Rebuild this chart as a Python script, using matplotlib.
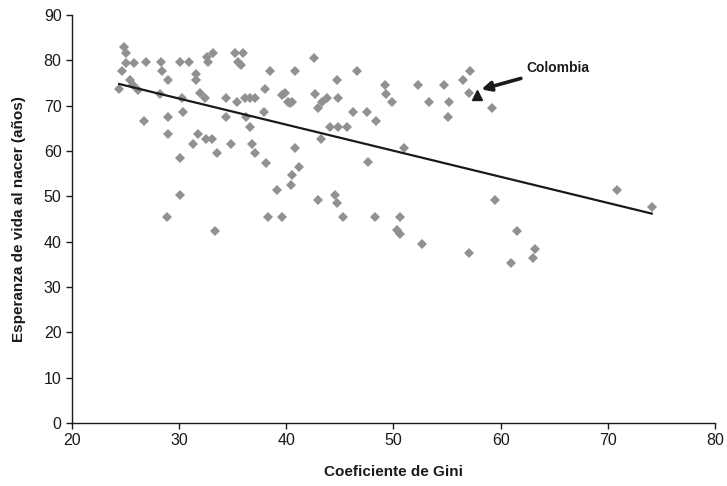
import matplotlib.pyplot as plt

# Datos (coeficiente de Gini, esperanza de vida)
gini = [
    24.9, 25.0, 25.0, 25.8, 26.9, 28.3, 30.1, 30.9, 24.7, 28.4,
    31.6, 31.6, 29.0, 24.4, 25.4, 25.7, 26.2, 28.2, 30.3, 31.9,
    32.4, 32.6, 33.2, 32.7, 35.2, 36.0, 35.5, 35.8, 38.5, 40.8,
    38.0, 39.6, 39.9, 40.2, 40.3, 34.4, 35.4, 36.1, 36.6, 37.1,
    26.7, 29.0, 30.4, 34.4, 36.2, 36.6, 37.9, 29.0, 31.8, 31.3,
    32.5, 33.1, 34.8, 36.8, 33.5, 37.1, 30.1, 38.1, 40.8, 40.5,
    41.2, 42.6, 46.6, 44.7, 57.1, 56.5, 42.7, 43.3, 43.8, 43.0,
    44.8, 40.5, 49.2, 49.3, 49.9, 52.3, 54.7, 53.3, 55.2, 55.1,
    57.0, 46.2, 47.5, 48.4, 44.1, 44.8, 45.7, 43.2, 51.0, 47.6,
    59.2, 40.4, 39.1, 30.1, 28.9, 38.3, 39.6, 33.3, 43.0, 44.5,
    44.7, 45.3, 48.3, 50.6, 50.3, 50.6, 52.7, 57.0, 59.5, 74.1,
    70.9, 61.5, 63.2, 63.0, 61.0,
]
esperanza = [
    82.9, 81.6, 79.5, 79.5, 79.6, 79.6, 79.6, 79.6, 77.7, 77.7,
    77.0, 75.7, 75.7, 73.6, 75.7, 74.6, 73.5, 72.6, 71.6, 72.7,
    71.6, 80.8, 81.7, 79.7, 81.7, 81.7, 79.7, 79.0, 77.7, 77.7,
    73.6, 72.4, 72.7, 70.9, 70.7, 71.6, 70.9, 71.6, 71.6, 71.6,
    66.7, 67.6, 68.7, 67.6, 67.6, 65.4, 68.7, 63.7, 63.7, 61.5,
    62.6, 62.6, 61.5, 61.5, 59.5, 59.5, 58.5, 57.4, 60.6, 54.7,
    56.5, 80.6, 77.7, 75.7, 77.7, 75.7, 72.6, 70.9, 71.6, 69.6,
    71.8, 70.9, 74.6, 72.6, 70.9, 74.6, 74.6, 70.9, 70.9, 67.6,
    72.7, 68.7, 68.7, 66.6, 65.4, 65.4, 65.4, 62.7, 60.6, 57.5,
    69.6, 52.5, 51.4, 50.4, 45.5, 45.5, 45.5, 42.4, 49.3, 50.4,
    48.6, 45.5, 45.5, 45.5, 42.6, 41.7, 39.5, 37.4, 49.3, 47.6,
    51.4, 42.4, 38.5, 36.5, 35.4,
]

# Colombia
colombia_gini = [57.75]
colombia_esp = [72.4]

# Línea de tendencia (extremos)
tend_x = [24.4, 74.1]
tend_y = [74.8, 46.2]

fig = plt.figure(figsize=(7.27, 4.86), dpi=100)
ax = fig.add_axes([0.099, 0.1296, 0.8845, 0.8394])

ax.plot(gini, esperanza, linestyle='none', marker='D', markersize=5.2,
        color='#919194', markeredgewidth=0)
ax.plot(tend_x, tend_y, color='#1a1a1a', linewidth=1.6)
ax.plot(colombia_gini, colombia_esp, linestyle='none', marker='^',
        markersize=7, color='#1a1a1a')

ax.annotate('Colombia', xy=(58.2, 73.6), xytext=(62.4, 78.3),
            fontsize=10, fontweight='bold', va='center', ha='left',
            family=['Liberation Sans', 'DejaVu Sans'], color='#1a1a1a',
            arrowprops=dict(arrowstyle='-|>', color='#1a1a1a', lw=2.6,
                            mutation_scale=14, shrinkA=2, shrinkB=0))

ax.set_xlim(20, 80)
ax.set_ylim(0, 90)
ax.set_xticks(range(20, 81, 10))
ax.set_yticks(range(0, 91, 10))

for s in ['top', 'right']:
    ax.spines[s].set_visible(False)
for s in ['left', 'bottom']:
    ax.spines[s].set_color('#1a1a1a')
    ax.spines[s].set_linewidth(1.0)

ax.tick_params(direction='out', length=4, width=1, color='#1a1a1a',
               labelsize=11.5, labelcolor='#1a1a1a')
for lab in ax.get_xticklabels() + ax.get_yticklabels():
    lab.set_family(['Liberation Sans Narrow', 'Liberation Sans', 'DejaVu Sans'])

ax.set_xlabel('Coeficiente de Gini', fontsize=11, fontweight='bold',
              family=['Liberation Sans', 'DejaVu Sans'], labelpad=12,
              color='#1a1a1a')
ax.set_ylabel('Esperanza de vida al nacer (años)', fontsize=11,
              fontweight='bold', family=['Liberation Sans', 'DejaVu Sans'],
              labelpad=13, color='#1a1a1a')

fig.savefig('out.png', dpi=100)
